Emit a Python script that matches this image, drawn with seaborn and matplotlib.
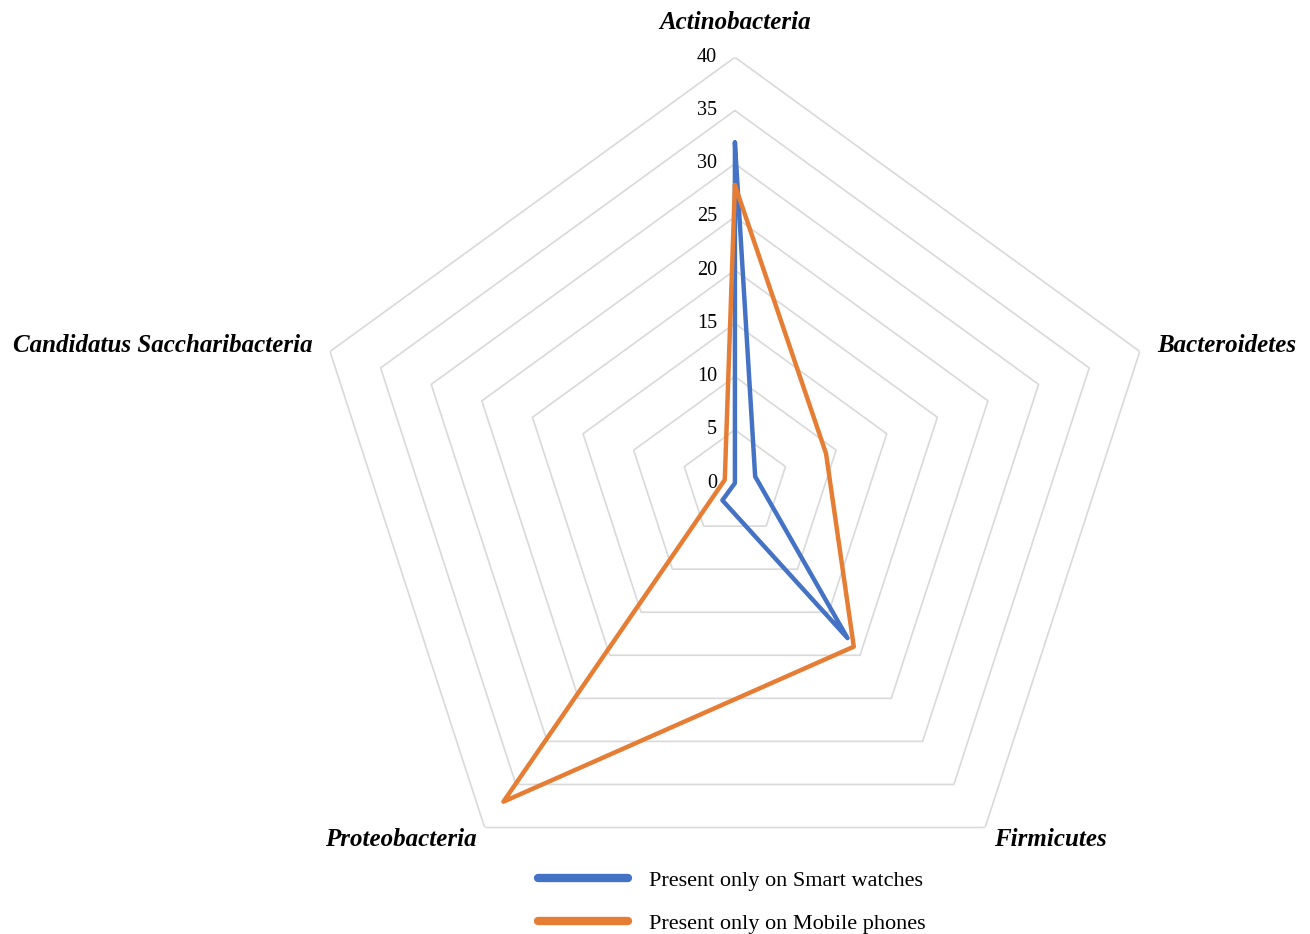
import numpy as np
import pandas as pd
import matplotlib
matplotlib.use("Agg")
import matplotlib.pyplot as plt
import seaborn as sns

# Data
categories = ["Actinobacteria", "Bacteroidetes", "Firmicutes",
              "Proteobacteria", "Candidatus Saccharibacteria"]
smart_watches = [32, 2, 18, 2, 0]
mobile_phones = [28, 9, 19, 37, 1]
series_names = ["Present only on Smart watches", "Present only on Mobile phones"]
r_ticks = [0, 5, 10, 15, 20, 25, 30, 35, 40]

sns.set_theme(style="white")
plt.rcParams["font.family"] = ["Liberation Serif", "DejaVu Serif"]

n = len(categories)
angles = np.linspace(0, 2 * np.pi, n, endpoint=False)
closed = np.append(angles, angles[0])

rows = []
for name, vals in zip(series_names, [smart_watches, mobile_phones]):
    for th, v in zip(closed, vals + vals[:1]):
        rows.append({"theta": th, "value": v, "series": name})
df = pd.DataFrame(rows)

colors = ["#4472C4", "#E67D34"]

fig = plt.figure(figsize=(13.1, 9.34), dpi=100)
ax = fig.add_axes([0.236, 0.0268, 0.650, 0.912], projection="polar")
ax.set_theta_offset(np.pi / 2)
ax.set_theta_direction(-1)

# pentagon grid
for r in r_ticks[1:]:
    ax.plot(closed, [r] * len(closed), color="#d9d9d9", lw=1.2, zorder=1)

sns.lineplot(data=df, x="theta", y="value", hue="series", sort=False,
             estimator=None, palette=colors, linewidth=3.2,
             ax=ax, zorder=3, legend=False)

ax.set_ylim(0, 40)
ax.grid(False)
ax.spines["polar"].set_visible(False)
ax.set_xticks([])
ax.set_yticks([])
ax.set_xlabel("")
ax.set_ylabel("")

for r in r_ticks:
    ax.annotate(str(r), xy=(0, r), xytext=(-18, 0), textcoords="offset pixels",
                ha="right", va="center", fontsize=14.5, color="black")

offsets = [((0, 35), "center"), ((17, 6), "left"), ((9, -12), "left"),
           ((-8, -12), "right"), ((-17, 6), "right")]
for th, lab, (off, ha) in zip(angles, categories, offsets):
    ax.annotate(lab, xy=(th, 40), xytext=off, textcoords="offset pixels",
                ha=ha, va="center", fontsize=18, fontweight="bold",
                fontstyle="italic", color="black")

handles = [plt.Line2D([], [], color=c, lw=6, solid_capstyle="round")
           for c in colors]
leg = fig.legend(handles, series_names, loc="upper left",
                 bbox_to_anchor=(0.4105, 0.068), frameon=False, fontsize=16,
                 handlelength=4.05, handletextpad=0.95, labelspacing=1.0,
                 borderaxespad=0, borderpad=0)
for t in leg.get_texts():
    t.set_color("black")

fig.savefig("out.png", dpi=100, facecolor="white")
